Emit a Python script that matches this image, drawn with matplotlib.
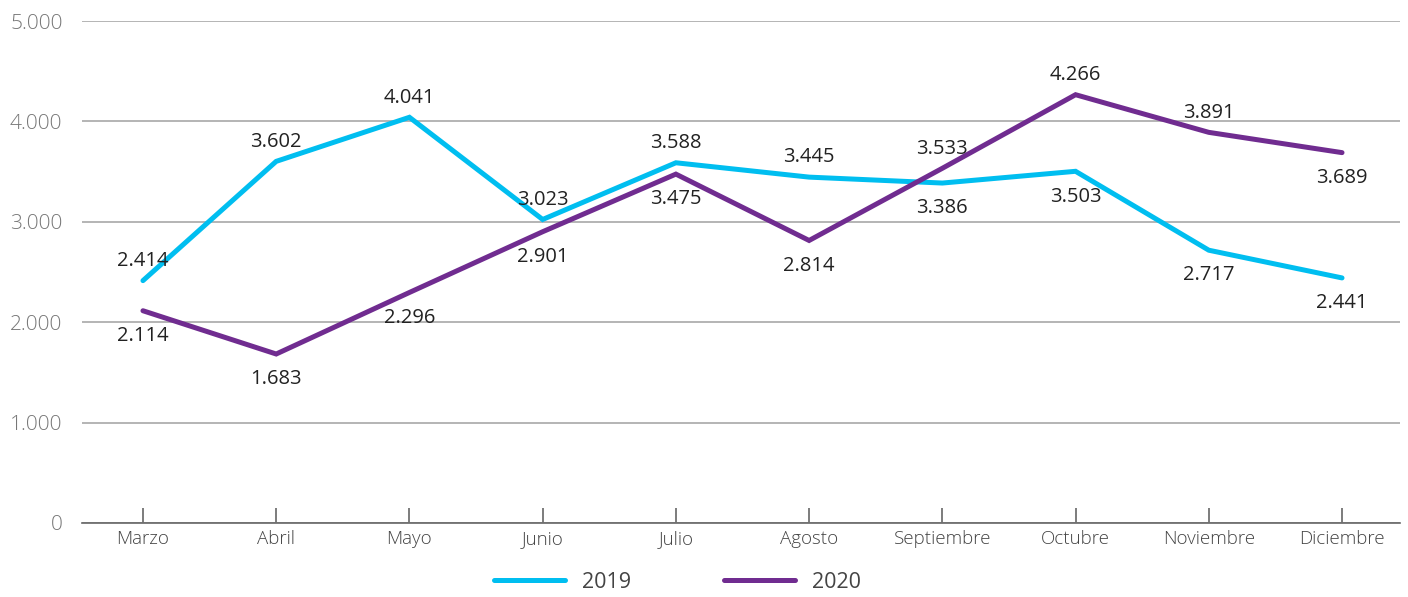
import matplotlib
matplotlib.use("Agg")
import matplotlib.pyplot as plt

plt.rcParams['font.family'] = ['Open Sans', 'DejaVu Sans']

# %% data

meses = ['Marzo', 'Abril', 'Mayo', 'Junio', 'Julio', 'Agosto',
         'Septiembre', 'Octubre', 'Noviembre', 'Diciembre']
v_2019 = [2414, 3602, 4041, 3023, 3588, 3445, 3386, 3503, 2717, 2441]
v_2020 = [2114, 1683, 2296, 2901, 3475, 2814, 3533, 4266, 3891, 3689]

# label above (+1) or below (-1) the point
pos_2019 = [1, 1, 1, 1, 1, 1, -1, -1, -1, -1]
pos_2020 = [-1, -1, -1, -1, -1, -1, 1, 1, 1, -1]

colores = {'2019': '#00BEF0', '2020': '#702C90'}

# %% figure

fig = plt.figure(figsize=(14.08, 5.97), dpi=100)
ax = fig.add_axes([0.0582, 0.124, 0.9361, 0.8408])

x = list(range(len(meses)))
ax.plot(x, v_2019, color=colores['2019'], lw=3.6, label='2019',
        solid_joinstyle='miter', solid_capstyle='round')
ax.plot(x, v_2020, color=colores['2020'], lw=3.6, label='2020',
        solid_joinstyle='miter', solid_capstyle='round')

def fmt(v):
    return f'{v:,}'.replace(',', '.')

for vals, pos in ((v_2019, pos_2019), (v_2020, pos_2020)):
    for xi, v, p in zip(x, vals, pos):
        ax.annotate(fmt(v), (xi, v), xytext=(0, 7 if p > 0 else -11),
                    textcoords='offset points', ha='center',
                    va='bottom' if p > 0 else 'top',
                    fontsize=14.5, color='#222222')

# %% axes

ax.set_ylim(0, 5000)
ax.set_xlim(-0.458, 9.435)
ax.set_yticks(range(0, 5001, 1000))
ax.set_yticklabels([fmt(t) for t in range(0, 5001, 1000)],
                   fontsize=15, color='#777777', fontweight='light')
ax.set_xticks(x)
ax.set_xticklabels(meses, fontsize=13.5, color='#444444', fontweight='light')

ax.grid(axis='y', color='#A8A8A8', lw=1.2)
ax.set_axisbelow(True)
for s in ['top', 'right', 'left']:
    ax.spines[s].set_visible(False)
ax.spines['bottom'].set_color('#666666')
ax.spines['bottom'].set_linewidth(1.2)
ax.tick_params(axis='y', length=0, pad=14)
ax.tick_params(axis='x', direction='in', length=11, width=1.2,
               color='#666666', pad=5)

fig.legend(loc='center', bbox_to_anchor=(0.481, 0.025), ncol=2,
           frameon=False, fontsize=15.5, handlelength=3.3,
           handletextpad=0.8, columnspacing=4.3, labelcolor='#444444')

plt.savefig('out.png', dpi=100)
